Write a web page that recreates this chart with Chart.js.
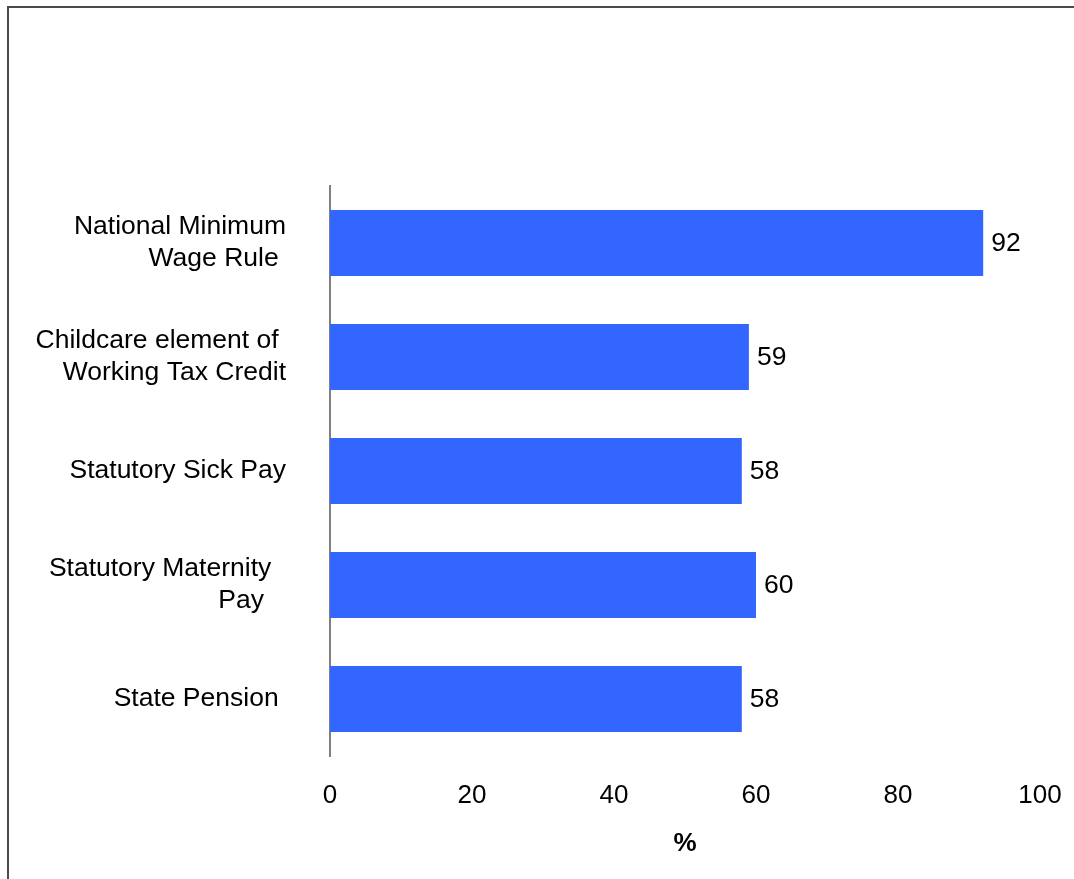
<!DOCTYPE html>
<html lang="en">
<head>
  <meta charset="UTF-8">
  <script src="https://cdn.jsdelivr.net/npm/chart.js"></script>
  <style>
    html, body {
      margin: 0;
      padding: 0;
      background: #fff;
      overflow: hidden;
    }
    .chart-container {
      position: absolute;
      left: 0;
      top: 0;
      width: 1074px;
      height: 879px;
    }
    /* frame line along the top and left edge */
    .frame {
      position: absolute;
      left: 7px;
      top: 6px;
      width: 1100px;
      height: 900px;
      border-left: 2px solid #4a4a4a;
      border-top: 2px solid #4a4a4a;
      pointer-events: none;
    }
  </style>
</head>
<body>
  <div class="chart-container">
    <canvas id="awarenessChart"></canvas>
  </div>
  <div class="frame"></div>

  <script>
    const categories = [
      ['National Minimum', 'Wage Rule '],
      ['Childcare element of ', 'Working Tax Credit'],
      'Statutory Sick Pay',
      ['Statutory Maternity  ', 'Pay   '],
      'State Pension '
    ];
    const percentages = [92, 59, 58, 60, 58];
    const xTicks = [0, 20, 40, 60, 80, 100];

    const FONT = "'Liberation Sans', Arial, sans-serif";

    // writes the value just past the end of each bar
    const valueLabels = {
      id: 'valueLabels',
      afterDatasetsDraw(chart) {
        const ctx = chart.ctx;
        const meta = chart.getDatasetMeta(0);
        ctx.save();
        ctx.font = '26.5px ' + FONT;
        ctx.fillStyle = '#000';
        ctx.textAlign = 'left';
        ctx.textBaseline = 'middle';
        meta.data.forEach((bar, i) => {
          ctx.fillText(String(percentages[i]), bar.x + 8, bar.y + 1);
        });
        ctx.restore();
      }
    };

    new Chart(document.getElementById('awarenessChart'), {
      type: 'bar',
      data: {
        labels: categories,
        datasets: [{
          data: percentages,
          backgroundColor: '#3366FF',
          borderWidth: 0,
          barPercentage: 0.58,
          categoryPercentage: 1
        }]
      },
      options: {
        indexAxis: 'y',
        responsive: true,
        maintainAspectRatio: false,
        animation: false,
        layout: {
          padding: { top: 186, right: 34, bottom: 0, left: 0 }
        },
        scales: {
          x: {
            min: 0,
            max: 100,
            afterBuildTicks: scale => {
              scale.ticks = xTicks.map(v => ({ value: v }));
            },
            afterFit: scale => {
              scale.height = 123;
              // let the layout padding alone decide the right edge
              scale.paddingLeft = 0;
              scale.paddingRight = 0;
            },
            grid: { display: false, drawTicks: false },
            border: { display: false },
            ticks: {
              color: '#000',
              padding: 24,
              font: { family: FONT, size: 26 }
            },
            title: {
              display: true,
              text: '%',
              color: '#000',
              padding: { top: 0, bottom: 20 },
              font: { family: FONT, size: 26, weight: 'bold' }
            }
          },
          y: {
            afterFit: scale => { scale.width = 330; },
            grid: { display: false, drawTicks: false },
            border: { display: true, color: '#808080', width: 2 },
            ticks: {
              color: '#000',
              padding: 44,
              font: { family: FONT, size: 26.5, lineHeight: 1.2 }
            }
          }
        },
        plugins: {
          legend: { display: false },
          tooltip: { enabled: false }
        }
      },
      plugins: [valueLabels]
    });
  </script>
</body>
</html>
